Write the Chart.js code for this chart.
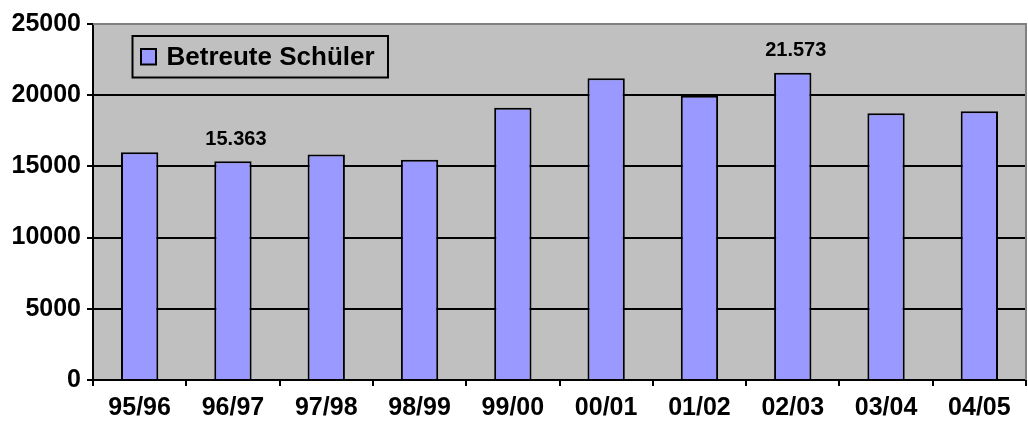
<!DOCTYPE html>
<html>
<head>
<meta charset="utf-8">
<script src="https://cdn.jsdelivr.net/npm/chart.js@4.4.1/dist/chart.umd.min.js"></script>
<style>
html,body{margin:0;padding:0;background:#fff;}
canvas{display:block;}
</style>
</head>
<body>
<canvas id="c" width="1028" height="421"></canvas>
<script>
const categories = ['95/96','96/97','97/98','98/99','99/00','00/01','01/02','02/03','03/04','04/05'];
const values = [16000, 15363, 15840, 15470, 19120, 21190, 19970, 21573, 18740, 18880];
const seriesName = 'Betreute Schüler';
const labeledIndices = [1, 7];
const yTicks = [0, 5000, 10000, 15000, 20000, 25000];

const FONT = '"Liberation Sans", Arial, sans-serif';
const BAR = '#9999FF';
const PLOT_BG = '#C0C0C0';

function fmt(v){ return String(v).replace(/\B(?=(\d{3})+(?!\d))/g, '.'); }

const plotPlugin = {
  id: 'plotBg',
  beforeDraw(chart){
    const a = chart.chartArea, ctx = chart.ctx;
    ctx.save();
    ctx.fillStyle = PLOT_BG;
    ctx.fillRect(a.left, a.top, a.right - a.left, a.bottom - a.top);
    ctx.restore();
  },
  afterDatasetsDraw(chart){
    const ctx = chart.ctx;
    const meta = chart.getDatasetMeta(0);
    ctx.save();
    ctx.fillStyle = '#000';
    ctx.textAlign = 'center';
    ctx.textBaseline = 'middle';
    ctx.font = 'bold 20px ' + FONT;
    labeledIndices.forEach(i => {
      const el = meta.data[i];
      ctx.fillText(fmt(values[i]), el.x + 3, el.y - 22);
    });
    ctx.restore();
  },
  afterDraw(chart){
    const a = chart.chartArea, ctx = chart.ctx;
    ctx.save();
    ctx.strokeStyle = '#808080';
    ctx.lineWidth = 2;
    ctx.beginPath();
    ctx.moveTo(a.left, a.top);
    ctx.lineTo(a.right, a.top);
    ctx.lineTo(a.right, a.bottom);
    ctx.stroke();
    // legend
    const lx = a.left + 39.5, ly = a.top + 12, lw = 255.5, lh = 41.5;
    ctx.fillStyle = PLOT_BG;
    ctx.fillRect(lx, ly, lw, lh);
    ctx.strokeStyle = '#000';
    ctx.lineWidth = 2;
    ctx.strokeRect(lx, ly, lw, lh);
    ctx.fillStyle = BAR;
    ctx.fillRect(lx + 8.5, ly + 13, 15, 15.5);
    ctx.strokeRect(lx + 8.5, ly + 13, 15, 15.5);
    ctx.fillStyle = '#000';
    ctx.font = 'bold 26px ' + FONT;
    ctx.textAlign = 'left';
    ctx.textBaseline = 'middle';
    ctx.fillText(seriesName, lx + 34, ly + lh / 2 + 1);
    ctx.restore();
  }
};

new Chart(document.getElementById('c'), {
  type: 'bar',
  data: {
    labels: categories,
    datasets: [{
      label: seriesName,
      data: values,
      backgroundColor: BAR,
      borderColor: '#000',
      borderWidth: 2,
      categoryPercentage: 1.0,
      barPercentage: 0.4
    }]
  },
  options: {
    responsive: false,
    animation: false,
    layout: { padding: { top: 24, right: 2, left: 0, bottom: 0 } },
    plugins: {
      legend: { display: false },
      tooltip: { enabled: false }
    },
    scales: {
      x: {
        offset: true,
        grid: {
          offset: true,
          drawOnChartArea: false,
          drawTicks: true,
          tickLength: 6,
          color: '#000',
          lineWidth: 2
        },
        border: { display: true, color: '#000', width: 2 },
        ticks: {
          color: '#000',
          font: { family: FONT, size: 25, weight: 'bold' },
          padding: 7,
          maxRotation: 0,
          autoSkip: false
        },
        afterFit(s){ s.height = 41; }
      },
      y: {
        min: 0,
        max: 25000,
        afterBuildTicks(s){ s.ticks = yTicks.map(v => ({ value: v })); },
        grid: {
          color: '#000',
          lineWidth: 2,
          drawTicks: true,
          tickLength: 6
        },
        border: { display: true, color: '#000', width: 2 },
        ticks: {
          color: '#000',
          font: { family: FONT, size: 25, weight: 'bold' },
          padding: 6,
          callback: v => String(v)
        },
        afterFit(s){ s.width = 93; }
      }
    }
  },
  plugins: [plotPlugin]
});
</script>
</body>
</html>
